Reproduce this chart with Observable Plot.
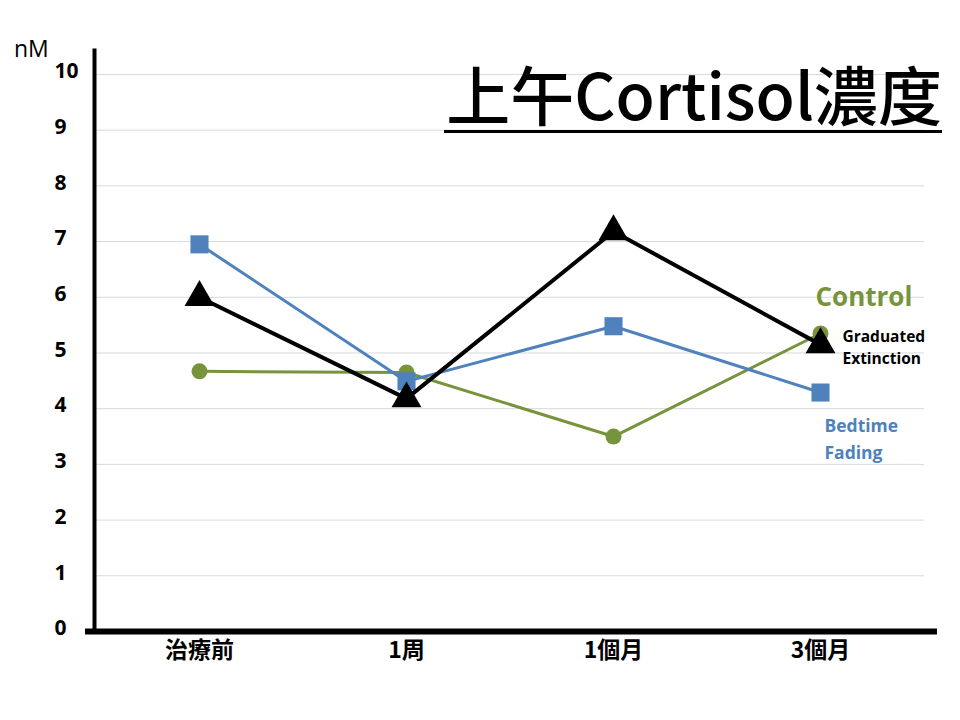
<!DOCTYPE html>
<html>
<head>
<meta charset="utf-8">
<script src="https://cdn.jsdelivr.net/npm/d3@7"></script>
<script src="https://cdn.jsdelivr.net/npm/@observablehq/plot@0.6"></script>
<style>
  html, body { margin: 0; padding: 0; background: #fff; }
  #wrap { position: relative; width: 960px; height: 720px; overflow: hidden; font-family: "Noto Sans CJK TC", "Noto Sans", sans-serif; }
  #title { position: absolute; right: 18px; top: 54px; font-size: 64px; line-height: 76px; font-weight: 500; color: #000; border-bottom: 3px solid #000; padding: 0 0 0 2px; white-space: nowrap; }
  #unit { position: absolute; left: 14px; top: 32px; font-size: 23px; color: #000; font-family: "Open Sans", sans-serif; }
</style>
</head>
<body>
<div id="wrap">
  <div id="chart"></div>
  <div id="unit">nM</div>
  <div id="title">上午Cortisol濃度</div>
</div>
<script>
const categories = ["治療前", "1周", "1個月", "3個月"];
const controlValues = [4.67, 4.65, 3.5, 5.35];
const graduatedValues = [6.0, 4.18, 7.18, 5.15];
const bedtimeValues = [6.95, 4.49, 5.48, 4.29];
const yTicks = [0, 1, 2, 3, 4, 5, 6, 7, 8, 9, 10];

const toRows = (vals) => categories.map((c, i) => ({cat: c, v: vals[i]}));
const control = toRows(controlValues);
const graduated = toRows(graduatedValues);
const bedtime = toRows(bedtimeValues);
const last = (rows) => [rows[rows.length - 1]];

const green = "#77933C", blue = "#4F81BD", black = "#000000";
const bodyFont = "Open Sans, Noto Sans CJK TC, sans-serif";

const chart = Plot.plot({
  width: 960,
  height: 720,
  marginLeft: 94,
  marginRight: 36,
  marginTop: 50,
  marginBottom: 89,
  style: {background: "#fff", fontFamily: bodyFont},
  x: {type: "point", domain: categories, padding: 0.5},
  y: {domain: [0, 10.43]},
  marks: [
    Plot.gridY(yTicks, {stroke: "#d9d9d9", strokeOpacity: 1, strokeWidth: 1}),
    Plot.axisY(yTicks, {tickSize: 0, textAnchor: "start", dx: -31, dy: -3, fontSize: 21, fontWeight: "bold", label: null, tickFormat: d3.format("d"), fontFamily: bodyFont}),
    Plot.axisX({tickSize: 0, tickPadding: 10, fontSize: 23, fontWeight: "bold", label: null, fontFamily: "Noto Sans CJK TC, sans-serif"}),
    Plot.frame({anchor: "left", strokeWidth: 4, stroke: black}),
    Plot.ruleY([0], {stroke: black, strokeWidth: 6, insetLeft: -9, insetRight: -13}),
    Plot.line(control, {x: "cat", y: "v", stroke: green, strokeWidth: 3}),
    Plot.dot(control, {x: "cat", y: "v", fill: green, r: 8, symbol: "circle"}),
    Plot.line(bedtime, {x: "cat", y: "v", stroke: blue, strokeWidth: 3}),
    Plot.dot(bedtime, {x: "cat", y: "v", fill: blue, r: 10.2, symbol: "square"}),
    Plot.line(graduated, {x: "cat", y: "v", stroke: black, strokeWidth: 4}),
    Plot.dot(graduated, {x: "cat", y: "v", fill: black, r: 11.1, symbol: "triangle"}),
    Plot.text(last(control), {x: "cat", y: "v", text: () => "Control", fill: green, fontSize: 26, fontWeight: "bold", textAnchor: "start", dx: -5, dy: -36, fontFamily: bodyFont}),
    Plot.text(last(graduated), {x: "cat", y: "v", text: () => "Graduated\nExtinction", fill: black, fontSize: 15.5, fontWeight: "bold", textAnchor: "start", lineHeight: 1.45, dx: 22, dy: 1, fontFamily: bodyFont}),
    Plot.text(last(bedtime), {x: "cat", y: "v", text: () => "Bedtime\nFading", fill: blue, fontSize: 17.5, fontWeight: "bold", textAnchor: "start", lineHeight: 1.55, dx: 4, dy: 44, fontFamily: bodyFont})
  ]
});
document.getElementById("chart").appendChild(chart);
</script>
</body>
</html>
